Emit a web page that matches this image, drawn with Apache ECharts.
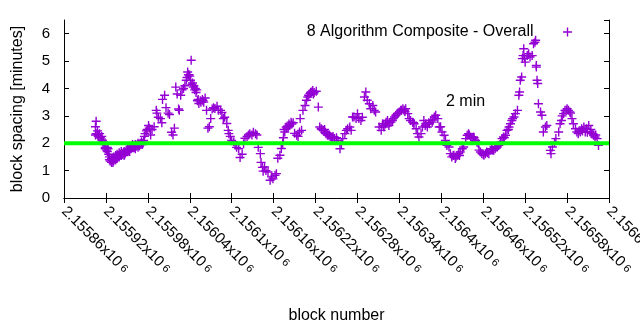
<!DOCTYPE html>
<html><head><meta charset="utf-8">
<script src="https://cdn.jsdelivr.net/npm/echarts@6/dist/echarts.min.js"></script>
<style>html,body{margin:0;padding:0;background:#fff}#c{width:640px;height:330px}</style>
</head><body><div id="c"></div>
<script>
const seriesName = '8 Algorithm Composite - Overall';
const refLabel = '2 min';
const baseBlock = 2155860;
const blockOffset = [45,45,46,46,48,49,49,51,52,54,54,55,56,56,58,59,59,61,62,62,64,65,65,66,68,68,69,71,71,72,74,74,75,76,76,78,79,79,81,82,82,84,85,86,86,88,89,91,91,92,94,94,95,96,98,98,99,101,102,102,104,105,106,106,108,109,111,112,114,115,116,118,119,121,122,124,126,129,132,133,135,138,140,141,144,146,149,151,154,156,158,160,162,164,165,167,169,171,173,175,177,179,180,182,184,186,188,190,191,193,195,198,200,202,204,206,208,210,212,214,216,219,221,224,226,228,230,233,235,236,238,240,243,245,247,250,252,255,257,259,262,264,266,269,271,274,276,278,281,282,284,285,287,289,292,295,297,299,302,304,306,309,311,313,314,316,318,321,323,325,328,330,333,335,337,338,340,342,345,347,349,352,354,356,358,361,364,366,368,371,373,375,378,380,383,385,387,390,392,395,397,399,402,404,406,409,411,413,415,418,420,422,425,427,430,432,434,437,439,442,444,446,451,454,456,458,461,463,465,468,470,473,475,477,480,482,485,487,489,492,494,496,499,501,504,506,508,511,513,515,518,520,523,525,527,530,532,535,537,539,541,544,546,548,551,553,555,558,560,563,565,567,570,572,575,577,579,582,584,586,589,591,593,596,598,601,603,605,608,610,612,615,617,620,622,625,627,629,632,634,637,639,641,644,646,649,651,652,653,655,656,657,658,659,660,663,665,667,670,672,674,675,676,676,677,678,679,682,684,686,689,691,696,697,699,702,704,708,710,712,715,717,720,722,724,727,729,732,734,736,739,741,744,746,748,751,753,755,758,760,763,765,
  63,67,70,73,77,80,83,87,90,93,97,100,103,107,110,113,176,178,181,183,185,187,189,192,196,199,315,319,322,326,350,353,357,369,374,377,381,384,457,460,466,471,478,483,488,500,517,522,528,557,561,566,580,587,594,600,606,613,618,624,630,636,642,713,719,725,737,742,749,754,757,761];
const spacing = [2.6,2.3,2.8,2.35,2.45,2.3,2.25,2.35,2.2,2.15,2.25,2.1,2.0,2.05,1.95,1.85,1.8,1.75,1.7,1.85,1.6,1.5,1.4,1.35,1.3,1.45,1.4,1.35,1.5,1.45,1.4,1.55,1.5,1.45,1.6,1.55,1.5,1.65,1.6,1.55,1.7,1.6,1.65,1.7,1.55,1.65,1.75,1.7,1.8,1.75,1.8,1.7,1.85,1.8,1.85,1.95,1.9,1.85,1.95,1.8,1.9,1.95,2.0,1.85,1.9,2.0,2.05,1.95,2.1,2.25,2.35,2.45,2.5,2.65,2.55,2.3,2.5,2.6,3.2,3.1,2.95,2.9,2.75,3.6,3.75,3.3,3.1,3.05,2.4,2.3,2.55,4.05,3.8,3.25,3.2,3.75,3.95,4.0,4.1,4.3,4.6,4.5,4.45,5.03,4.2,4.1,4.0,3.95,3.55,3.45,3.55,3.6,3.5,3.65,3.2,2.55,2.6,2.9,3.25,3.3,3.27,3.35,3.2,3.2,3.12,2.9,2.95,2.72,2.47,2.35,2.25,2.1,2.05,1.95,1.85,1.8,1.48,1.6,1.98,2.18,2.25,2.3,2.35,2.3,2.4,2.35,2.3,1.85,1.62,1.3,1.12,0.98,1.13,1.0,0.95,0.65,0.77,0.7,0.83,0.89,1.45,1.56,1.81,2.0,2.2,2.41,2.59,2.6,2.65,2.77,2.75,2.36,2.29,2.25,2.41,2.9,2.47,3.2,3.38,3.57,3.69,3.81,3.87,3.93,3.85,3.9,3.32,2.59,2.53,2.47,2.5,2.35,2.29,2.3,2.23,2.25,2.17,2.2,2.1,1.8,1.98,2.17,2.35,2.47,2.53,2.59,2.47,2.96,2.96,2.9,3.08,2.9,2.83,2.95,3.69,3.87,3.57,3.44,3.26,3.38,3.2,3.14,2.59,2.47,2.71,2.59,2.77,2.83,2.65,2.77,2.83,2.96,3.02,3.08,3.14,3.2,3.26,3.2,3.26,3.08,2.9,2.83,2.77,2.71,2.53,2.35,2.23,2.35,2.59,2.83,2.71,2.59,2.71,2.83,2.77,2.96,3.02,2.9,2.59,2.6,2.41,2.29,2.1,1.92,1.86,1.62,1.5,1.56,1.44,1.56,1.62,1.68,1.8,1.86,2.17,2.29,2.35,2.23,2.17,2.23,2.1,2.04,1.98,1.68,1.62,1.56,1.62,1.68,1.62,1.74,1.8,1.74,1.8,1.86,1.92,2.04,2.17,2.23,2.29,2.47,2.59,2.71,2.83,2.96,3.08,3.2,3.75,3.87,4.3,4.42,5.09,5.2,5.45,5.1,4.96,5.2,5.27,5.15,5.2,5.63,5.69,5.76,4.84,4.78,4.3,4.18,3.44,3.14,3.02,2.41,2.59,2.65,1.74,1.62,1.86,2.04,2.17,2.41,2.71,2.83,3.08,3.2,3.26,3.2,3.14,2.9,2.71,2.53,2.41,2.35,2.41,2.53,2.59,2.41,2.53,2.65,2.41,2.35,2.29,2.23,2.17,1.92,
  1.8,1.4,1.3,1.4,1.5,1.55,1.6,1.6,1.7,1.75,1.85,1.9,1.9,1.95,1.95,2.0,4.4,4.5,4.3,4.15,4.05,3.95,3.85,3.6,3.5,3.55,2.5,2.55,2.7,2.7,3.75,3.85,3.8,2.5,2.4,2.3,2.25,2.2,2.65,2.7,2.75,2.9,3.1,3.2,3.15,2.75,2.65,2.75,2.85,1.55,1.5,1.55,2.3,2.2,1.75,1.6,1.65,1.75,1.85,1.95,2.2,2.5,2.9,3.0,3.2,3.1,2.45,2.45,2.4,2.5,2.35,2.3];
const refBlocks = [2155860, 2156640];
const refLevel = [2, 2];
const xTickLabels = ['2.15586','2.15592','2.15598','2.15604','2.1561','2.15616','2.15622','2.15628','2.15634','2.1564','2.15646','2.15652','2.15658','2.15664'];
const yTickLabels = ['0','1','2','3','4','5','6'];

const xMin = 2155860, xMax = 2156640, xStep = 60;
const FONT = '"Liberation Sans", Arial, sans-serif';
const PURPLE = '#9400d3';
const CROSS = 'path://M3.8,0H5.2V9H3.8Z M0,3.8H9V5.2H0Z';

const pts = blockOffset.map((o, i) => [baseBlock + o, spacing[i]]);
const refData = refBlocks.map((b, i) => [b, refLevel[i]]);

const chart = echarts.init(document.getElementById('c'), null, {renderer: 'canvas'});
const axisLineStyle = {color: '#000', width: 1};
chart.setOption({
  animation: false,
  backgroundColor: '#fff',
  textStyle: {fontFamily: FONT},
  grid: {left: 64, right: 31, top: 20, bottom: 132, containLabel: false, outerBoundsMode: 'none'},
  legend: {
    data: [{name: seriesName, icon: CROSS}],
    align: 'right', right: 68, top: 24, padding: 0,
    itemWidth: 58, itemHeight: 9,
    textStyle: {fontSize: 16, color: '#000', fontFamily: FONT},
    selectedMode: false
  },
  xAxis: [{
    type: 'value', min: xMin, max: xMax, interval: xStep, position: 'bottom',
    name: 'block number', nameLocation: 'middle', nameGap: 110,
    nameTextStyle: {fontSize: 16, color: '#000', fontFamily: FONT},
    axisLine: {show: true, lineStyle: axisLineStyle},
    axisTick: {show: true, inside: true, length: 5, lineStyle: axisLineStyle},
    splitLine: {show: false},
    axisLabel: {
      rotate: -45, margin: 11, color: '#000', fontSize: 16, fontFamily: FONT,
      showMinLabel: true, showMaxLabel: true, hideOverlap: false,
      formatter: v => {
        const i = Math.round((v - xMin) / xStep);
        return '{m|' + xTickLabels[i] + 'x10}{s| 6}';
      },
      rich: {m: {fontSize: 15, fontFamily: FONT, color: '#000'}, s: {fontSize: 11, fontFamily: FONT, color: '#000'}}
    }
  }, {
    type: 'value', min: xMin, max: xMax, interval: xStep, position: 'top',
    axisLine: {show: true, lineStyle: axisLineStyle},
    axisTick: {show: true, inside: true, length: 5, lineStyle: axisLineStyle},
    axisLabel: {show: false}, splitLine: {show: false}
  }],
  yAxis: [{
    type: 'value', min: 0, max: 6.5, interval: 1, position: 'left',
    name: 'block spacing [minutes]', nameLocation: 'middle', nameGap: 38,
    nameTextStyle: {fontSize: 16, color: '#000', fontFamily: FONT},
    axisLine: {show: true, lineStyle: axisLineStyle},
    axisTick: {show: true, inside: true, length: 5, lineStyle: axisLineStyle},
    splitLine: {show: false},
    axisLabel: {
      color: '#000', fontSize: 15, fontFamily: FONT, margin: 14, showMaxLabel: false,
      formatter: v => (Number.isInteger(v) ? yTickLabels[v] : '')
    }
  }, {
    type: 'value', min: 0, max: 6.5, interval: 1, position: 'right',
    axisLine: {show: true, lineStyle: axisLineStyle},
    axisTick: {show: true, inside: true, length: 5, lineStyle: axisLineStyle},
    axisLabel: {show: false}, splitLine: {show: false}
  }],
  series: [{
    name: seriesName, type: 'scatter', data: pts,
    symbol: CROSS, symbolSize: 9,
    itemStyle: {color: PURPLE, opacity: 1},
    emphasis: {disabled: true}, silent: true, z: 2
  }, {
    name: refLabel, type: 'line', data: refData,
    showSymbol: false, symbol: 'none',
    lineStyle: {color: '#00ff00', width: 4},
    emphasis: {disabled: true}, silent: true, z: 3
  }],
  graphic: [{
    type: 'text', left: 446, top: 94,
    style: {text: refLabel, fontSize: 16, fontFamily: FONT, fill: '#000'}
  }]
});
</script>
</body></html>
